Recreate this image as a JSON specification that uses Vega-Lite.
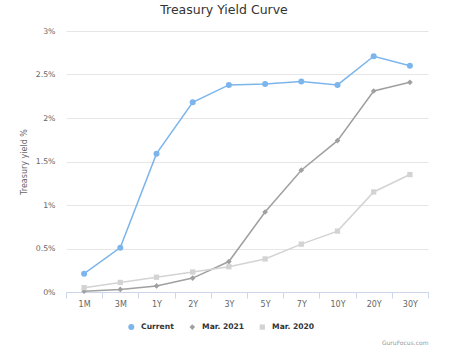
{
  "$schema": "https://vega.github.io/schema/vega-lite/v6.json",
  "width": 362,
  "height": 261,
  "autosize": {"type": "none"},
  "padding": {"left": 66, "top": 31, "right": 35, "bottom": 62},
  "background": "white",
  "config": {"view": {"stroke": null}, "font": "DejaVu Sans"},
  "title": {"text": "Treasury Yield Curve", "fontSize": 12.5, "fontWeight": "normal", "color": "#333333", "font": "DejaVu Sans", "anchor": "middle", "baseline": "top", "offset": 11, "dx": -23},
  "data": {"values": [
    {"tenor": "1M", "series": "Current", "yield": 0.21},
    {"tenor": "3M", "series": "Current", "yield": 0.51},
    {"tenor": "1Y", "series": "Current", "yield": 1.59},
    {"tenor": "2Y", "series": "Current", "yield": 2.18},
    {"tenor": "3Y", "series": "Current", "yield": 2.38},
    {"tenor": "5Y", "series": "Current", "yield": 2.39},
    {"tenor": "7Y", "series": "Current", "yield": 2.42},
    {"tenor": "10Y", "series": "Current", "yield": 2.38},
    {"tenor": "20Y", "series": "Current", "yield": 2.71},
    {"tenor": "30Y", "series": "Current", "yield": 2.60},
    {"tenor": "1M", "series": "Mar. 2021", "yield": 0.01},
    {"tenor": "3M", "series": "Mar. 2021", "yield": 0.03},
    {"tenor": "1Y", "series": "Mar. 2021", "yield": 0.07},
    {"tenor": "2Y", "series": "Mar. 2021", "yield": 0.16},
    {"tenor": "3Y", "series": "Mar. 2021", "yield": 0.35},
    {"tenor": "5Y", "series": "Mar. 2021", "yield": 0.92},
    {"tenor": "7Y", "series": "Mar. 2021", "yield": 1.40},
    {"tenor": "10Y", "series": "Mar. 2021", "yield": 1.74},
    {"tenor": "20Y", "series": "Mar. 2021", "yield": 2.31},
    {"tenor": "30Y", "series": "Mar. 2021", "yield": 2.41},
    {"tenor": "1M", "series": "Mar. 2020", "yield": 0.05},
    {"tenor": "3M", "series": "Mar. 2020", "yield": 0.11},
    {"tenor": "1Y", "series": "Mar. 2020", "yield": 0.17},
    {"tenor": "2Y", "series": "Mar. 2020", "yield": 0.23},
    {"tenor": "3Y", "series": "Mar. 2020", "yield": 0.29},
    {"tenor": "5Y", "series": "Mar. 2020", "yield": 0.38},
    {"tenor": "7Y", "series": "Mar. 2020", "yield": 0.55},
    {"tenor": "10Y", "series": "Mar. 2020", "yield": 0.70},
    {"tenor": "20Y", "series": "Mar. 2020", "yield": 1.15},
    {"tenor": "30Y", "series": "Mar. 2020", "yield": 1.35}
  ]},
  "encoding": {
    "x": {
      "field": "tenor", "type": "ordinal",
      "sort": ["1M", "3M", "1Y", "2Y", "3Y", "5Y", "7Y", "10Y", "20Y", "30Y"],
      "scale": {"type": "band", "paddingInner": 0, "paddingOuter": 0},
      "axis": {
        "title": "GuruFocus.com", "titleAnchor": "end", "titleFont": "DejaVu Sans", "titleFontSize": 6, "titleColor": "#999999", "titleFontWeight": "normal", "titlePadding": 31,
        "labelAngle": 0, "labelFont": "DejaVu Sans", "labelFontSize": 8, "labelColor": "#666666", "labelPadding": 2,
        "domainColor": "#ccd6eb", "domainWidth": 1, "tickColor": "#ccd6eb", "tickSize": 6, "tickBand": "extent", "grid": false
      }
    },
    "y": {
      "field": "yield", "type": "quantitative",
      "scale": {"domain": [0, 3]},
      "axis": {
        "values": [0, 0.5, 1, 1.5, 2, 2.5, 3], "labelExpr": "datum.value + '%'",
        "title": "Treasury yield %", "titleFont": "DejaVu Sans", "titleFontSize": 8, "titleFontWeight": "normal", "titleColor": "#666666", "titlePadding": 7,
        "labelFont": "DejaVu Sans", "labelFontSize": 7.8, "labelColor": "#666666", "labelPadding": 11,
        "ticks": false, "domain": false, "grid": true, "gridColor": "#e6e6e6", "gridWidth": 1
      }
    }
  },
  "layer": [
    {
      "mark": {"type": "line", "strokeWidth": 1.5},
      "encoding": {
        "color": {
          "field": "series", "type": "nominal",
          "scale": {"domain": ["Current", "Mar. 2021", "Mar. 2020"], "range": ["#7cb5ec", "#a0a0a0", "#d3d3d3"]},
          "legend": {
            "orient": "none", "legendX": 61.5, "legendY": 292, "direction": "horizontal", "title": null,
            "symbolSize": 144, "symbolStrokeWidth": 0, "symbolType": "circle",
            "labelFont": "DejaVu Sans", "labelFontSize": 7.6, "labelFontWeight": "bold", "labelColor": "#333333", "labelOffset": 6,
            "columnPadding": 14, "padding": 0,
            "encode": {"symbols": {"update": {
              "shape": {"condition": [
                {"test": "datum.value === 'Current'", "value": "M-1,-0.12L1,-0.12L1,0.12L-1,0.12ZM0.5,0L0.433,0.25L0.25,0.433L0,0.5L-0.25,0.433L-0.433,0.25L-0.5,0L-0.433,-0.25L-0.25,-0.433L0,-0.5L0.25,-0.433L0.433,-0.25Z"},
                {"test": "datum.value === 'Mar. 2021'", "value": "M-1,-0.12L1,-0.12L1,0.12L-1,0.12ZM0,-0.45L0.45,0L0,0.45L-0.45,0Z"}
              ], "value": "M-1,-0.12L1,-0.12L1,0.12L-1,0.12ZM-0.55,-0.55L0.55,-0.55L0.55,0.55L-0.55,0.55Z"},
              "fill": {"condition": [
                {"test": "datum.value === 'Current'", "value": "#7cb5ec"},
                {"test": "datum.value === 'Mar. 2021'", "value": "#a0a0a0"}
              ], "value": "#d3d3d3"},
              "fillOpacity": {"value": 1},
              "opacity": {"value": 1},
              "strokeWidth": {"value": 0}
            }}}
          }
        }
      }
    },
    {
      "mark": {"type": "point", "filled": true, "opacity": 1},
      "encoding": {
        "color": {"field": "series", "type": "nominal", "legend": null},
        "shape": {"field": "series", "type": "nominal", "scale": {"domain": ["Current", "Mar. 2021", "Mar. 2020"], "range": ["circle", "diamond", "square"]}, "legend": null},
        "size": {"field": "series", "type": "nominal", "scale": {"domain": ["Current", "Mar. 2021", "Mar. 2020"], "range": [36, 28, 30]}, "legend": null}
      }
    }
  ]
}
